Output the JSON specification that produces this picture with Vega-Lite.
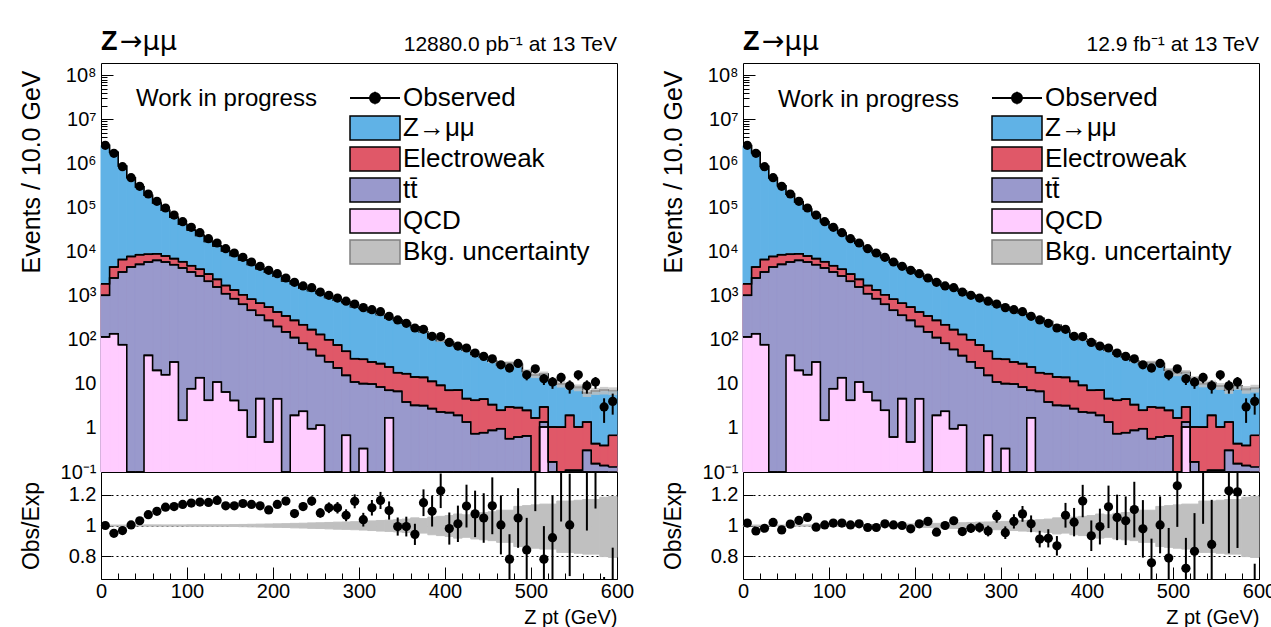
{
"$schema": "https://vega.github.io/schema/vega-lite/v6.json",
"padding": {"left": 18, "top": 27, "right": 0, "bottom": 0},
"background": "white",
"config": {
  "font": "Liberation Sans",
  "view": {"stroke": "#000", "strokeWidth": 1},
  "axis": {"domain": false, "grid": false, "tickColor": "#000", "labelColor": "#000", "titleColor": "#000", "labelFont": "Liberation Sans", "titleFont": "Liberation Sans", "titleFontWeight": "normal", "labelFontSize": 20, "titleFontSize": 21, "tickWidth": 1, "labelOverlap": false, "labelFlush": false},
  "legend": {"labelFont": "Liberation Sans", "labelColor": "#000", "labelLimit": 400},
  "text": {"font": "Liberation Sans", "color": "#000"}
},
"datasets": {
"stack": [
{"lo":0,"hi":10,"ewk":1862,"tt":1019,"qcd":116,"ulo":0.9967,"uhi":1.003},
{"lo":10,"hi":20,"ewk":4467,"tt":2518,"qcd":137,"ulo":0.9967,"uhi":1.003},
{"lo":20,"hi":30,"ewk":6607,"tt":3443,"qcd":77.3,"ulo":0.9967,"uhi":1.003},
{"lo":30,"hi":40,"ewk":7762,"tt":4477,"qcd":0,"ulo":0.9967,"uhi":1.003},
{"lo":40,"hi":50,"ewk":8511,"tt":5140,"qcd":0,"ulo":0.9967,"uhi":1.003},
{"lo":50,"hi":60,"ewk":8710,"tt":5808,"qcd":44.3,"ulo":0.9956,"uhi":1.004},
{"lo":60,"hi":70,"ewk":8913,"tt":6339,"qcd":20.2,"ulo":0.9956,"uhi":1.004},
{"lo":70,"hi":80,"ewk":7943,"tt":5800,"qcd":16.1,"ulo":0.9956,"uhi":1.004},
{"lo":80,"hi":90,"ewk":6918,"tt":5047,"qcd":31.3,"ulo":0.9956,"uhi":1.004},
{"lo":90,"hi":100,"ewk":5888,"tt":4246,"qcd":1.49,"ulo":0.9956,"uhi":1.004},
{"lo":100,"hi":110,"ewk":4786,"tt":3440,"qcd":7.76,"ulo":0.9945,"uhi":1.005},
{"lo":110,"hi":120,"ewk":3981,"tt":2793,"qcd":13.8,"ulo":0.9945,"uhi":1.005},
{"lo":120,"hi":130,"ewk":3090,"tt":2118,"qcd":4.23,"ulo":0.9945,"uhi":1.005},
{"lo":130,"hi":140,"ewk":2344,"tt":1574,"qcd":11.0,"ulo":0.9945,"uhi":1.005},
{"lo":140,"hi":150,"ewk":1698,"tt":1109,"qcd":6.53,"ulo":0.9945,"uhi":1.005},
{"lo":150,"hi":160,"ewk":1349,"tt":855,"qcd":4.2,"ulo":0.9934,"uhi":1.006},
{"lo":160,"hi":170,"ewk":1047,"tt":637,"qcd":2.51,"ulo":0.9923,"uhi":1.007},
{"lo":170,"hi":180,"ewk":832,"tt":466,"qcd":0.62,"ulo":0.9912,"uhi":1.008},
{"lo":180,"hi":190,"ewk":676,"tt":359,"qcd":4.61,"ulo":0.9901,"uhi":1.009},
{"lo":190,"hi":200,"ewk":550,"tt":276,"qcd":0.48,"ulo":0.989,"uhi":1.01},
{"lo":200,"hi":210,"ewk":427,"tt":200,"qcd":4.6,"ulo":0.9879,"uhi":1.011},
{"lo":210,"hi":220,"ewk":347,"tt":151,"qcd":0,"ulo":0.9868,"uhi":1.012},
{"lo":220,"hi":230,"ewk":275,"tt":112,"qcd":1.93,"ulo":0.9846,"uhi":1.014},
{"lo":230,"hi":240,"ewk":219,"tt":83.2,"qcd":2.38,"ulo":0.9835,"uhi":1.015},
{"lo":240,"hi":250,"ewk":170,"tt":60.3,"qcd":0.96,"ulo":0.9813,"uhi":1.017},
{"lo":250,"hi":260,"ewk":132,"tt":43.6,"qcd":1.15,"ulo":0.9802,"uhi":1.018},
{"lo":260,"hi":270,"ewk":100,"tt":31.6,"qcd":0,"ulo":0.978,"uhi":1.02},
{"lo":270,"hi":280,"ewk":75.9,"tt":22.9,"qcd":0,"ulo":0.9758,"uhi":1.022},
{"lo":280,"hi":290,"ewk":54.7,"tt":15.6,"qcd":0.68,"ulo":0.9747,"uhi":1.023},
{"lo":290,"hi":300,"ewk":37.2,"tt":11.0,"qcd":0,"ulo":0.9725,"uhi":1.025},
{"lo":300,"hi":310,"ewk":36.0,"tt":10.1,"qcd":0.34,"ulo":0.9703,"uhi":1.027},
{"lo":310,"hi":320,"ewk":31.3,"tt":9.9,"qcd":0,"ulo":0.967,"uhi":1.03},
{"lo":320,"hi":330,"ewk":28.7,"tt":8.47,"qcd":0,"ulo":0.9637,"uhi":1.033},
{"lo":330,"hi":340,"ewk":24.1,"tt":7.13,"qcd":1.7,"ulo":0.9615,"uhi":1.035},
{"lo":340,"hi":350,"ewk":17.9,"tt":6.76,"qcd":0,"ulo":0.9582,"uhi":1.038},
{"lo":350,"hi":360,"ewk":17.0,"tt":3.87,"qcd":0,"ulo":0.9538,"uhi":1.042},
{"lo":360,"hi":370,"ewk":14.3,"tt":3.25,"qcd":0,"ulo":0.945,"uhi":1.05},
{"lo":370,"hi":380,"ewk":14.0,"tt":3.2,"qcd":0,"ulo":0.9505,"uhi":1.045},
{"lo":380,"hi":390,"ewk":11.4,"tt":2.74,"qcd":0,"ulo":0.9395,"uhi":1.055},
{"lo":390,"hi":400,"ewk":9.25,"tt":2.30,"qcd":0,"ulo":0.934,"uhi":1.06},
{"lo":400,"hi":410,"ewk":7.13,"tt":2.22,"qcd":0,"ulo":0.9285,"uhi":1.065},
{"lo":410,"hi":420,"ewk":7.2,"tt":1.93,"qcd":0,"ulo":0.9175,"uhi":1.075},
{"lo":420,"hi":430,"ewk":4.61,"tt":1.36,"qcd":0,"ulo":0.923,"uhi":1.07},
{"lo":430,"hi":440,"ewk":4.23,"tt":0.74,"qcd":0,"ulo":0.912,"uhi":1.08},
{"lo":440,"hi":450,"ewk":4.5,"tt":0.78,"qcd":0,"ulo":0.9065,"uhi":1.085},
{"lo":450,"hi":460,"ewk":3.37,"tt":0.88,"qcd":0,"ulo":0.901,"uhi":1.09},
{"lo":460,"hi":470,"ewk":2.51,"tt":0.96,"qcd":0,"ulo":0.89,"uhi":1.1},
{"lo":470,"hi":480,"ewk":2.99,"tt":0.57,"qcd":0,"ulo":0.89,"uhi":1.1},
{"lo":480,"hi":490,"ewk":2.88,"tt":0.62,"qcd":0,"ulo":0.8625,"uhi":1.125},
{"lo":490,"hi":500,"ewk":2.5,"tt":0.66,"qcd":0,"ulo":0.857,"uhi":1.13},
{"lo":500,"hi":510,"ewk":1.68,"tt":0,"qcd":0,"ulo":0.8515,"uhi":1.135},
{"lo":510,"hi":520,"ewk":2.99,"tt":1.36,"qcd":1.05,"ulo":0.846,"uhi":1.14},
{"lo":520,"hi":530,"ewk":1.05,"tt":0.17,"qcd":0,"ulo":0.846,"uhi":1.14},
{"lo":530,"hi":540,"ewk":1.04,"tt":0,"qcd":0,"ulo":0.824,"uhi":1.16},
{"lo":540,"hi":550,"ewk":1.93,"tt":0.11,"qcd":0,"ulo":0.824,"uhi":1.16},
{"lo":550,"hi":560,"ewk":1.05,"tt":0.11,"qcd":0,"ulo":0.8185,"uhi":1.165},
{"lo":560,"hi":570,"ewk":1.36,"tt":0.31,"qcd":0,"ulo":0.813,"uhi":1.17},
{"lo":570,"hi":580,"ewk":0.44,"tt":0.155,"qcd":0,"ulo":0.813,"uhi":1.17},
{"lo":580,"hi":590,"ewk":0.40,"tt":0.14,"qcd":0,"ulo":0.7965,"uhi":1.185},
{"lo":590,"hi":600,"ewk":0.68,"tt":0.13,"qcd":0,"ulo":0.791,"uhi":1.19}
],
"obs": [
{"pt":5,"n":2576000,"err":1605},{"pt":15,"n":1698000,"err":1303},{"pt":25,"n":843300,"err":918},{"pt":35,"n":475300,"err":689},
{"pt":45,"n":302700,"err":550},{"pt":55,"n":202800,"err":450},{"pt":65,"n":138400,"err":372},{"pt":75,"n":97500,"err":312},
{"pt":85,"n":67600,"err":260},{"pt":95,"n":47640,"err":218},{"pt":105,"n":35560,"err":189},{"pt":115,"n":26850,"err":164},
{"pt":125,"n":19630,"err":140},{"pt":135,"n":15670,"err":125},{"pt":145,"n":11640,"err":108},{"pt":155,"n":9290,"err":96},
{"pt":165,"n":7430,"err":86},{"pt":175,"n":5810,"err":76},{"pt":185,"n":4630,"err":68},{"pt":195,"n":3770,"err":61},
{"pt":205,"n":3155,"err":56},{"pt":215,"n":2518,"err":50},{"pt":225,"n":2009,"err":45},{"pt":235,"n":1660,"err":41},
{"pt":245,"n":1517,"err":39},{"pt":255,"n":1211,"err":35},{"pt":265,"n":1019,"err":32},{"pt":275,"n":885,"err":30},
{"pt":285,"n":752,"err":27},{"pt":295,"n":647,"err":25},{"pt":305,"n":536,"err":23},{"pt":315,"n":481,"err":22},
{"pt":325,"n":434,"err":21},{"pt":335,"n":340,"err":18},{"pt":345,"n":281,"err":17},{"pt":355,"n":236,"err":15},
{"pt":365,"n":185,"err":14},{"pt":375,"n":173,"err":13},{"pt":385,"n":120,"err":11},{"pt":395,"n":118,"err":11},
{"pt":405,"n":87,"err":9.3},{"pt":415,"n":72,"err":8.5},{"pt":425,"n":65,"err":8.1},{"pt":435,"n":50,"err":7.1},
{"pt":445,"n":42,"err":6.5},{"pt":455,"n":37,"err":6.1},{"pt":465,"n":27,"err":5.2},{"pt":475,"n":23,"err":4.8},
{"pt":485,"n":29,"err":5.4},{"pt":495,"n":16,"err":4},{"pt":505,"n":22,"err":4.7},{"pt":515,"n":13,"err":3.6},
{"pt":525,"n":11,"err":3.3},{"pt":535,"n":14,"err":3.7},{"pt":545,"n":9,"err":3},{"pt":555,"n":16,"err":4},
{"pt":565,"n":9,"err":3},{"pt":575,"n":11,"err":3.3},{"pt":585,"n":3,"err":1.7},{"pt":595,"n":4,"err":2}
],
"left": [
{"lo":0,"hi":10,"pt":5,"mc":2576000,"blo":2567500,"bhi":2583700,"r":1.0,"rerr":0.0006},
{"lo":10,"hi":20,"pt":15,"mc":1789000,"blo":1783100,"bhi":1794400,"r":0.949,"rerr":0.0007},
{"lo":20,"hi":30,"pt":25,"mc":872100,"blo":869200,"bhi":874700,"r":0.967,"rerr":0.0011},
{"lo":30,"hi":40,"pt":35,"mc":473400,"blo":471800,"bhi":474800,"r":1.004,"rerr":0.0015},
{"lo":40,"hi":50,"pt":45,"mc":293600,"blo":292600,"bhi":294500,"r":1.031,"rerr":0.0019},
{"lo":50,"hi":60,"pt":55,"mc":189400,"blo":188600,"bhi":190200,"r":1.071,"rerr":0.0024},
{"lo":60,"hi":70,"pt":65,"mc":126600,"blo":126000,"bhi":127100,"r":1.093,"rerr":0.0029},
{"lo":70,"hi":80,"pt":75,"mc":87050,"blo":86670,"bhi":87400,"r":1.120,"rerr":0.0036},
{"lo":80,"hi":90,"pt":85,"mc":60140,"blo":59880,"bhi":60380,"r":1.124,"rerr":0.0043},
{"lo":90,"hi":100,"pt":95,"mc":41860,"blo":41680,"bhi":42030,"r":1.138,"rerr":0.0052},
{"lo":100,"hi":110,"pt":105,"mc":31000,"blo":30830,"bhi":31160,"r":1.147,"rerr":0.0061},
{"lo":110,"hi":120,"pt":115,"mc":23290,"blo":23160,"bhi":23410,"r":1.153,"rerr":0.007},
{"lo":120,"hi":130,"pt":125,"mc":17050,"blo":16960,"bhi":17140,"r":1.151,"rerr":0.0082},
{"lo":130,"hi":140,"pt":135,"mc":13460,"blo":13390,"bhi":13530,"r":1.164,"rerr":0.0093},
{"lo":140,"hi":150,"pt":145,"mc":10310,"blo":10250,"bhi":10360,"r":1.129,"rerr":0.0105},
{"lo":150,"hi":160,"pt":155,"mc":8230,"blo":8176,"bhi":8279,"r":1.129,"rerr":0.0118},
{"lo":160,"hi":170,"pt":165,"mc":6495,"blo":6445,"bhi":6540,"r":1.144,"rerr":0.0133},
{"lo":170,"hi":180,"pt":175,"mc":5105,"blo":5060,"bhi":5146,"r":1.138,"rerr":0.0149},
{"lo":180,"hi":190,"pt":185,"mc":4101,"blo":4060,"bhi":4138,"r":1.129,"rerr":0.0166},
{"lo":190,"hi":200,"pt":195,"mc":3421,"blo":3383,"bhi":3455,"r":1.102,"rerr":0.0179},
{"lo":200,"hi":210,"pt":205,"mc":2772,"blo":2738,"bhi":2802,"r":1.138,"rerr":0.0203},
{"lo":210,"hi":220,"pt":215,"mc":2171,"blo":2142,"bhi":2197,"r":1.160,"rerr":0.0231},
{"lo":220,"hi":230,"pt":225,"mc":1864,"blo":1835,"bhi":1890,"r":1.078,"rerr":0.024},
{"lo":230,"hi":240,"pt":235,"mc":1477,"blo":1453,"bhi":1499,"r":1.124,"rerr":0.0276},
{"lo":240,"hi":250,"pt":245,"mc":1308,"blo":1284,"bhi":1330,"r":1.160,"rerr":0.0298},
{"lo":250,"hi":260,"pt":255,"mc":1119,"blo":1097,"bhi":1139,"r":1.082,"rerr":0.0311},
{"lo":260,"hi":270,"pt":265,"mc":913,"blo":893,"bhi":931,"r":1.116,"rerr":0.035},
{"lo":270,"hi":280,"pt":275,"mc":793,"blo":774,"bhi":810,"r":1.116,"rerr":0.0375},
{"lo":280,"hi":290,"pt":285,"mc":705,"blo":687,"bhi":721,"r":1.067,"rerr":0.0389},
{"lo":290,"hi":300,"pt":295,"mc":559,"blo":544,"bhi":573,"r":1.158,"rerr":0.0455},
{"lo":300,"hi":310,"pt":305,"mc":516,"blo":501,"bhi":530,"r":1.038,"rerr":0.0448},
{"lo":310,"hi":320,"pt":315,"mc":431,"blo":417,"bhi":444,"r":1.116,"rerr":0.0509},
{"lo":320,"hi":330,"pt":325,"mc":373,"blo":359,"bhi":385,"r":1.164,"rerr":0.0559},
{"lo":330,"hi":340,"pt":335,"mc":310,"blo":298,"bhi":321,"r":1.098,"rerr":0.0595},
{"lo":340,"hi":350,"pt":345,"mc":283,"blo":271,"bhi":294,"r":0.993,"rerr":0.0592},
{"lo":350,"hi":360,"pt":355,"mc":238,"blo":227,"bhi":248,"r":0.993,"rerr":0.0646},
{"lo":360,"hi":370,"pt":365,"mc":196,"blo":185,"bhi":206,"r":0.942,"rerr":0.0693},
{"lo":370,"hi":380,"pt":375,"mc":151,"blo":144,"bhi":158,"r":1.149,"rerr":0.0874},
{"lo":380,"hi":390,"pt":385,"mc":110,"blo":103,"bhi":116,"r":1.093,"rerr":0.0998},
{"lo":390,"hi":400,"pt":395,"mc":96.2,"blo":89.9,"bhi":102,"r":1.227,"rerr":0.113},
{"lo":400,"hi":410,"pt":405,"mc":88.8,"blo":82.5,"bhi":94.6,"r":0.98,"rerr":0.105},
{"lo":410,"hi":420,"pt":415,"mc":71.2,"blo":65.3,"bhi":76.5,"r":1.011,"rerr":0.119},
{"lo":420,"hi":430,"pt":425,"mc":57.7,"blo":53.3,"bhi":61.7,"r":1.127,"rerr":0.14},
{"lo":430,"hi":440,"pt":435,"mc":46.5,"blo":42.4,"bhi":50.2,"r":1.076,"rerr":0.152},
{"lo":440,"hi":450,"pt":445,"mc":40.0,"blo":36.3,"bhi":43.4,"r":1.049,"rerr":0.162},
{"lo":450,"hi":460,"pt":455,"mc":32.8,"blo":29.6,"bhi":35.8,"r":1.129,"rerr":0.186},
{"lo":460,"hi":470,"pt":465,"mc":26.9,"blo":23.9,"bhi":29.6,"r":1.004,"rerr":0.193},
{"lo":470,"hi":480,"pt":475,"mc":29.5,"blo":26.3,"bhi":32.5,"r":0.78,"rerr":0.163},
{"lo":480,"hi":490,"pt":485,"mc":27.6,"blo":23.8,"bhi":31.1,"r":1.049,"rerr":0.195},
{"lo":490,"hi":500,"pt":495,"mc":19.0,"blo":16.3,"bhi":21.5,"r":0.84,"rerr":0.21},
{"lo":500,"hi":510,"pt":505,"mc":15.8,"blo":13.5,"bhi":17.9,"r":1.39,"rerr":0.296},
{"lo":510,"hi":520,"pt":515,"mc":16.7,"blo":14.1,"bhi":19.0,"r":0.78,"rerr":0.216},
{"lo":520,"hi":530,"pt":525,"mc":12.0,"blo":10.2,"bhi":13.7,"r":0.92,"rerr":0.277},
{"lo":530,"hi":540,"pt":535,"mc":10.0,"blo":8.24,"bhi":11.6,"r":1.4,"rerr":0.374},
{"lo":540,"hi":550,"pt":545,"mc":8.96,"blo":7.38,"bhi":10.4,"r":1.004,"rerr":0.335},
{"lo":550,"hi":560,"pt":555,"mc":8.3,"blo":6.79,"bhi":9.67,"r":1.93,"rerr":0.482},
{"lo":560,"hi":570,"pt":565,"mc":6.2,"blo":5.04,"bhi":7.25,"r":1.45,"rerr":0.483},
{"lo":570,"hi":580,"pt":575,"mc":6.9,"blo":5.61,"bhi":8.07,"r":1.59,"rerr":0.479},
{"lo":580,"hi":590,"pt":585,"mc":7.2,"blo":5.73,"bhi":8.53,"r":0.42,"rerr":0.243},
{"lo":590,"hi":600,"pt":595,"mc":7.0,"blo":5.54,"bhi":8.33,"r":0.57,"rerr":0.285}
],
"right": [
{"lo":0,"hi":10,"pt":5,"mc":2535000,"blo":2526600,"bhi":2542600,"r":1.016,"rerr":0.0006},
{"lo":10,"hi":20,"pt":15,"mc":1761000,"blo":1755200,"bhi":1766300,"r":0.964,"rerr":0.0007},
{"lo":20,"hi":30,"pt":25,"mc":858800,"blo":856000,"bhi":861400,"r":0.982,"rerr":0.0011},
{"lo":30,"hi":40,"pt":35,"mc":466000,"blo":464500,"bhi":467400,"r":1.020,"rerr":0.0015},
{"lo":40,"hi":50,"pt":45,"mc":311700,"blo":310700,"bhi":312600,"r":0.971,"rerr":0.0018},
{"lo":50,"hi":60,"pt":55,"mc":201000,"blo":200100,"bhi":201800,"r":1.009,"rerr":0.0022},
{"lo":60,"hi":70,"pt":65,"mc":134000,"blo":133400,"bhi":134500,"r":1.033,"rerr":0.0028},
{"lo":70,"hi":80,"pt":75,"mc":92590,"blo":92180,"bhi":92960,"r":1.053,"rerr":0.0034},
{"lo":80,"hi":90,"pt":85,"mc":68350,"blo":68050,"bhi":68620,"r":0.989,"rerr":0.0038},
{"lo":90,"hi":100,"pt":95,"mc":47450,"blo":47240,"bhi":47640,"r":1.004,"rerr":0.0046},
{"lo":100,"hi":110,"pt":105,"mc":35000,"blo":34810,"bhi":35180,"r":1.016,"rerr":0.0054},
{"lo":110,"hi":120,"pt":115,"mc":26430,"blo":26280,"bhi":26560,"r":1.016,"rerr":0.0062},
{"lo":120,"hi":130,"pt":125,"mc":19550,"blo":19440,"bhi":19650,"r":1.004,"rerr":0.0072},
{"lo":130,"hi":140,"pt":135,"mc":15500,"blo":15410,"bhi":15580,"r":1.011,"rerr":0.0081},
{"lo":140,"hi":150,"pt":145,"mc":11790,"blo":11730,"bhi":11850,"r":0.987,"rerr":0.0091},
{"lo":150,"hi":160,"pt":155,"mc":9412,"blo":9350,"bhi":9468,"r":0.987,"rerr":0.0102},
{"lo":160,"hi":170,"pt":165,"mc":7349,"blo":7292,"bhi":7400,"r":1.011,"rerr":0.0117},
{"lo":170,"hi":180,"pt":175,"mc":5787,"blo":5736,"bhi":5833,"r":1.004,"rerr":0.0132},
{"lo":180,"hi":190,"pt":185,"mc":4630,"blo":4584,"bhi":4672,"r":1.0,"rerr":0.0147},
{"lo":190,"hi":200,"pt":195,"mc":3855,"blo":3813,"bhi":3894,"r":0.978,"rerr":0.0159},
{"lo":200,"hi":210,"pt":205,"mc":3121,"blo":3083,"bhi":3155,"r":1.011,"rerr":0.018},
{"lo":210,"hi":220,"pt":215,"mc":2452,"blo":2420,"bhi":2481,"r":1.027,"rerr":0.0205},
{"lo":220,"hi":230,"pt":225,"mc":2101,"blo":2069,"bhi":2130,"r":0.956,"rerr":0.0213},
{"lo":230,"hi":240,"pt":235,"mc":1660,"blo":1633,"bhi":1685,"r":1.0,"rerr":0.0246},
{"lo":240,"hi":250,"pt":245,"mc":1471,"blo":1443,"bhi":1496,"r":1.031,"rerr":0.0265},
{"lo":250,"hi":260,"pt":255,"mc":1261,"blo":1236,"bhi":1284,"r":0.96,"rerr":0.0276},
{"lo":260,"hi":270,"pt":265,"mc":1038,"blo":1015,"bhi":1059,"r":0.982,"rerr":0.0308},
{"lo":270,"hi":280,"pt":275,"mc":897,"blo":875,"bhi":917,"r":0.987,"rerr":0.0332},
{"lo":280,"hi":290,"pt":285,"mc":780,"blo":760,"bhi":798,"r":0.964,"rerr":0.0352},
{"lo":290,"hi":300,"pt":295,"mc":610,"blo":593,"bhi":625,"r":1.06,"rerr":0.0417},
{"lo":300,"hi":310,"pt":305,"mc":562,"blo":545,"bhi":577,"r":0.953,"rerr":0.0411},
{"lo":310,"hi":320,"pt":315,"mc":468,"blo":453,"bhi":482,"r":1.027,"rerr":0.0469},
{"lo":320,"hi":330,"pt":325,"mc":403,"blo":388,"bhi":416,"r":1.076,"rerr":0.0517},
{"lo":330,"hi":340,"pt":335,"mc":336,"blo":323,"bhi":348,"r":1.011,"rerr":0.0549},
{"lo":340,"hi":350,"pt":345,"mc":308,"blo":295,"bhi":320,"r":0.911,"rerr":0.0542},
{"lo":350,"hi":360,"pt":355,"mc":258,"blo":246,"bhi":269,"r":0.916,"rerr":0.0595},
{"lo":360,"hi":370,"pt":365,"mc":213,"blo":201,"bhi":224,"r":0.867,"rerr":0.0638},
{"lo":370,"hi":380,"pt":375,"mc":162,"blo":154,"bhi":169,"r":1.067,"rerr":0.0808},
{"lo":380,"hi":390,"pt":385,"mc":117,"blo":110,"bhi":123,"r":1.022,"rerr":0.0929},
{"lo":390,"hi":400,"pt":395,"mc":102,"blo":95.3,"bhi":108,"r":1.16,"rerr":0.106},
{"lo":400,"hi":410,"pt":405,"mc":93.2,"blo":86.5,"bhi":99.3,"r":0.933,"rerr":0.1},
{"lo":410,"hi":420,"pt":415,"mc":72.5,"blo":66.5,"bhi":77.9,"r":0.993,"rerr":0.117},
{"lo":420,"hi":430,"pt":425,"mc":57.9,"blo":53.4,"bhi":62.0,"r":1.122,"rerr":0.139},
{"lo":430,"hi":440,"pt":435,"mc":47.5,"blo":43.3,"bhi":51.3,"r":1.053,"rerr":0.149},
{"lo":440,"hi":450,"pt":445,"mc":40.7,"blo":36.9,"bhi":44.2,"r":1.031,"rerr":0.159},
{"lo":450,"hi":460,"pt":455,"mc":33.5,"blo":30.2,"bhi":36.5,"r":1.104,"rerr":0.182},
{"lo":460,"hi":470,"pt":465,"mc":27.6,"blo":24.6,"bhi":30.4,"r":0.978,"rerr":0.188},
{"lo":470,"hi":480,"pt":475,"mc":30.4,"blo":27.1,"bhi":33.4,"r":0.756,"rerr":0.158},
{"lo":480,"hi":490,"pt":485,"mc":28.9,"blo":24.9,"bhi":32.5,"r":1.004,"rerr":0.186},
{"lo":490,"hi":500,"pt":495,"mc":20.3,"blo":17.4,"bhi":22.9,"r":0.787,"rerr":0.197},
{"lo":500,"hi":510,"pt":505,"mc":17.5,"blo":14.9,"bhi":19.9,"r":1.26,"rerr":0.269},
{"lo":510,"hi":520,"pt":515,"mc":18.1,"blo":15.3,"bhi":20.6,"r":0.72,"rerr":0.199},
{"lo":520,"hi":530,"pt":525,"mc":13.2,"blo":11.2,"bhi":15.0,"r":0.831,"rerr":0.25},
{"lo":530,"hi":540,"pt":535,"mc":10.1,"blo":8.32,"bhi":11.7,"r":1.38,"rerr":0.369},
{"lo":540,"hi":550,"pt":545,"mc":10.3,"blo":8.49,"bhi":11.9,"r":0.876,"rerr":0.292},
{"lo":550,"hi":560,"pt":555,"mc":8.9,"blo":7.28,"bhi":10.4,"r":1.8,"rerr":0.45},
{"lo":560,"hi":570,"pt":565,"mc":7.3,"blo":5.93,"bhi":8.54,"r":1.227,"rerr":0.409},
{"lo":570,"hi":580,"pt":575,"mc":9.0,"blo":7.32,"bhi":10.5,"r":1.22,"rerr":0.367},
{"lo":580,"hi":590,"pt":585,"mc":7.5,"blo":5.97,"bhi":8.89,"r":0.4,"rerr":0.231},
{"lo":590,"hi":600,"pt":595,"mc":8.0,"blo":6.33,"bhi":9.52,"r":0.5,"rerr":0.25}
]
},
"spacing": 25,
"resolve": {"scale": {"fill": "independent", "color": "independent"}, "legend": {"fill": "independent", "color": "independent"}},
"hconcat": [
{
"spacing": 0,
"bounds": "flush",
"resolve": {"scale": {"fill": "independent", "color": "independent"}, "legend": {"fill": "independent", "color": "independent"}},
"vconcat": [
{
"width": 516, "height": 409,
"layer": [
{"data": {"name": "left"}, "mark": {"type": "rect", "stroke": "#60b2e6", "strokeWidth": 1},
 "encoding": {
  "x": {"field": "lo", "type": "quantitative", "scale": {"domain": [0, 600], "nice": false, "zero": false},
        "axis": {"title": null, "labels": false, "labelOverlap": false, "values": [0,20,40,60,80,100,120,140,160,180,200,220,240,260,280,300,320,340,360,380,400,420,440,460,480,500,520,540,560,580,600],
                 "tickSize": {"condition": {"test": "datum.value % 100 === 0", "value": -12}, "value": -6}}},
  "x2": {"field": "hi"},
  "y": {"field": "mc", "type": "quantitative", "scale": {"type": "log", "domain": [0.1, 190000000], "nice": false, "clamp": true},
        "axis": {"title": "Events / 10.0 GeV", "titleX": -70, "titleY": 7, "titleAngle": -90, "titleAlign": "right", "titleBaseline": "middle", "titleFontSize": 25,
                 "labelOverlap": false,
                 "values": [0.1,0.2,0.3,0.4,0.5,0.6,0.7,0.8,0.9,1,2,3,4,5,6,7,8,9,10,20,30,40,50,60,70,80,90,100,200,300,400,500,600,700,800,900,1000,2000,3000,4000,5000,6000,7000,8000,9000,10000,20000,30000,40000,50000,60000,70000,80000,90000,100000,200000,300000,400000,500000,600000,700000,800000,900000,1000000,2000000,3000000,4000000,5000000,6000000,7000000,8000000,9000000,10000000,20000000,30000000,40000000,50000000,60000000,70000000,80000000,90000000,100000000],
                 "labelExpr": "datum.value == 0.1 ? '10⁻¹' : datum.value == 1 ? '1' : datum.value == 10 ? '10' : datum.value == 100 ? '10²' : datum.value == 1000 ? '10³' : datum.value == 10000 ? '10⁴' : datum.value == 100000 ? '10⁵' : datum.value == 1000000 ? '10⁶' : datum.value == 10000000 ? '10⁷' : datum.value == 100000000 ? '10⁸' : ''",
                 "tickSize": {"condition": {"test": "abs(log(datum.value)/LN10 - round(log(datum.value)/LN10)) < 0.001", "value": -12}, "value": -6},
                 "labelPadding": 17}},
  "y2": {"datum": 0.1},
  "fill": {"datum": "Z→μμ", "type": "nominal",
           "scale": {"domain": ["Z→μμ", "Electroweak", "tt̄", "QCD", "Bkg. uncertainty"], "range": ["#60b2e6", "#e05868", "#9999cc", "#ffccff", "#c0c0c0"]},
           "legend": {"orient": "none", "legendX": 260.5, "legendY": 51.5, "title": null, "padding": 0,
                      "symbolType": "M-2,-0.96H2V0.96H-2Z", "symbolSize": 625, "symbolStrokeWidth": 1.5, "symbolStrokeColor": "#000", "symbolOpacity": 1,
                      "labelFontSize": 26, "labelOffset": 14.5, "rowPadding": 0,
                      "encode": {"symbols": {"update": {"stroke": {"signal": "datum.value === 'Bkg. uncertainty' ? '#808080' : '#000000'"}, "strokeWidth": {"value": 1.5}, "opacity": {"value": 1}}}}}}
 }},
{"data": {"name": "stack"}, "mark": {"type": "rect", "stroke": "#e05868", "strokeWidth": 1},
 "encoding": {"x": {"field": "lo", "type": "quantitative"}, "x2": {"field": "hi"}, "y": {"field": "ewk", "type": "quantitative"}, "y2": {"datum": 0.1}, "fill": {"datum": "Electroweak", "type": "nominal"}}},
{"data": {"name": "stack"}, "mark": {"type": "rect", "stroke": "#9999cc", "strokeWidth": 1},
 "encoding": {"x": {"field": "lo", "type": "quantitative"}, "x2": {"field": "hi"}, "y": {"field": "tt", "type": "quantitative"}, "y2": {"datum": 0.1}, "fill": {"datum": "tt̄", "type": "nominal"}}},
{"data": {"name": "stack"}, "mark": {"type": "rect", "stroke": "#ffccff", "strokeWidth": 1},
 "encoding": {"x": {"field": "lo", "type": "quantitative"}, "x2": {"field": "hi"}, "y": {"field": "qcd", "type": "quantitative"}, "y2": {"datum": 0.1}, "fill": {"datum": "QCD", "type": "nominal"}}},
{"data": {"name": "left"}, "mark": {"type": "line", "interpolate": "step-after", "color": "#000", "strokeWidth": 1.6},
 "encoding": {"x": {"field": "lo", "type": "quantitative"}, "y": {"field": "mc", "type": "quantitative"}}},
{"data": {"name": "stack"}, "mark": {"type": "line", "interpolate": "step-after", "color": "#000", "strokeWidth": 1.6},
 "encoding": {"x": {"field": "lo", "type": "quantitative"}, "y": {"field": "ewk", "type": "quantitative"}}},
{"data": {"name": "stack"}, "mark": {"type": "line", "interpolate": "step-after", "color": "#000", "strokeWidth": 1.6},
 "encoding": {"x": {"field": "lo", "type": "quantitative"}, "y": {"field": "tt", "type": "quantitative"}}},
{"data": {"name": "stack"}, "mark": {"type": "line", "interpolate": "step-after", "color": "#000", "strokeWidth": 1.6},
 "encoding": {"x": {"field": "lo", "type": "quantitative"}, "y": {"field": "qcd", "type": "quantitative"}}},
{"data": {"name": "left"}, "mark": {"type": "rule", "color": "#000", "strokeWidth": 1.6},
 "encoding": {"x": {"field": "lo", "type": "quantitative"}, "x2": {"field": "hi"}, "y": {"field": "mc", "type": "quantitative"}}},
{"data": {"name": "stack"}, "mark": {"type": "rule", "color": "#000", "strokeWidth": 1.6},
 "encoding": {"x": {"field": "lo", "type": "quantitative"}, "x2": {"field": "hi"}, "y": {"field": "ewk", "type": "quantitative"}}},
{"data": {"name": "stack"}, "mark": {"type": "rule", "color": "#000", "strokeWidth": 1.6},
 "encoding": {"x": {"field": "lo", "type": "quantitative"}, "x2": {"field": "hi"}, "y": {"field": "tt", "type": "quantitative"}}},
{"data": {"name": "stack"}, "mark": {"type": "rule", "color": "#000", "strokeWidth": 1.6},
 "encoding": {"x": {"field": "lo", "type": "quantitative"}, "x2": {"field": "hi"}, "y": {"field": "qcd", "type": "quantitative"}}},
{"data": {"name": "left"}, "mark": {"type": "rect", "fillOpacity": 0.8},
 "encoding": {"x": {"field": "lo", "type": "quantitative"}, "x2": {"field": "hi"}, "y": {"field": "bhi", "type": "quantitative"}, "y2": {"field": "blo"}, "fill": {"datum": "Bkg. uncertainty", "type": "nominal"}}},
{"data": {"name": "obs"}, "mark": {"type": "errorbar", "color": "#000", "thickness": 2, "clip": true},
 "encoding": {"x": {"field": "pt", "type": "quantitative"}, "y": {"field": "n", "type": "quantitative", "title": "Events / 10.0 GeV"}, "yError": {"field": "err"}}},
{"data": {"name": "obs"}, "mark": {"type": "point", "filled": true, "size": 85, "opacity": 1, "clip": true},
 "encoding": {"x": {"field": "pt", "type": "quantitative"}, "y": {"field": "n", "type": "quantitative"},
  "color": {"datum": "Observed", "type": "nominal", "scale": {"domain": ["Observed"], "range": ["#000000"]},
            "legend": {"orient": "none", "legendX": 260.5, "legendY": 21.5, "title": null, "padding": 0,
                       "symbolType": "M-2,0H2M0,-0.5V0.5M0.4,0A0.4,0.4,0,1,1,-0.4,0A0.4,0.4,0,1,1,0.4,0Z", "symbolSize": 625,
                       "symbolFillColor": "#000", "symbolStrokeColor": "#000", "symbolStrokeWidth": 2, "labelFontSize": 26, "labelOffset": 14.5,
                       "encode": {"symbols": {"update": {"stroke": {"value": "#000"}, "strokeWidth": {"value": 2}, "fill": {"value": "#000"}, "opacity": {"value": 1}}}}}}}},
{"data": {"values": [{}]}, "mark": {"type": "text", "text": "Work in progress", "fontSize": 24, "align": "left", "baseline": "middle"},
 "encoding": {"x": {"datum": 40.7, "type": "quantitative"}, "y": {"datum": 29000000, "type": "quantitative"}}},
{"data": {"values": [{}]}, "mark": {"type": "text", "text": "Z", "fontSize": 27, "fontWeight": "bold", "align": "left", "baseline": "middle", "dy": -21},
 "encoding": {"x": {"datum": 0, "type": "quantitative"}, "y": {"datum": 190000000, "type": "quantitative"}}},
{"data": {"values": [{}]}, "mark": {"type": "text", "text": "→μμ", "font": "DejaVu Sans", "fontSize": 27, "align": "left", "baseline": "middle", "dy": -21},
 "encoding": {"x": {"datum": 22, "type": "quantitative"}, "y": {"datum": 190000000, "type": "quantitative"}}},
{"data": {"values": [{}]}, "mark": {"type": "text", "text": "12880.0 pb⁻¹ at 13 TeV", "fontSize": 21, "align": "right", "baseline": "middle", "dy": -18},
 "encoding": {"x": {"datum": 600, "type": "quantitative"}, "y": {"datum": 190000000, "type": "quantitative"}}}
]
},
{
"width": 516, "height": 107,
"resolve": {"axis": {"x": "independent"}},
"layer": [
{"data": {"name": "stack"}, "mark": {"type": "rect", "color": "#c0c0c0", "stroke": "#c0c0c0", "strokeWidth": 1},
 "encoding": {
  "x": {"field": "lo", "type": "quantitative", "scale": {"domain": [0, 600], "nice": false, "zero": false},
        "axis": {"orient": "bottom", "title": "Z pt  (GeV)", "titleAnchor": "end", "titleAlign": "right", "titleFontSize": 20, "titlePadding": 6,
                 "labelOverlap": false, "values": [0,100,200,300,400,500,600],
                 "tickSize": -12, "labelPadding": 14}},
  "x2": {"field": "hi"},
  "y": {"field": "uhi", "type": "quantitative", "scale": {"domain": [0.65, 1.35], "nice": false, "zero": false},
        "axis": {"title": "Obs/Exp", "titleX": -70, "titleY": 53.5, "titleAngle": -90, "titleAlign": "center", "titleBaseline": "middle", "titleFontSize": 23,
                 "labelOverlap": false,
                 "values": [0.8, 1, 1.2],
                 "labelExpr": "datum.value == 1 ? '1' : format(datum.value, '.1f')",
                 "tickSize": -10, "labelPadding": 15,
                 "grid": true, "gridColor": "#000", "gridDash": [2, 3], "gridWidth": 1}},
  "y2": {"field": "ulo"}
 }},
{"data": {"name": "left"}, "mark": {"type": "errorbar", "color": "#000", "thickness": 2, "clip": true},
 "encoding": {"x": {"field": "pt", "type": "quantitative",
                    "axis": {"orient": "bottom", "title": null, "labels": false, "tickSize": -6,
                             "values": [20,40,60,80,120,140,160,180,220,240,260,280,320,340,360,380,420,440,460,480,520,540,560,580]}},
              "y": {"field": "r", "type": "quantitative", "title": "Obs/Exp"}, "yError": {"field": "rerr"}}},
{"data": {"name": "left"}, "mark": {"type": "point", "filled": true, "color": "#000", "size": 85, "opacity": 1, "clip": true},
 "encoding": {"x": {"field": "pt", "type": "quantitative", "axis": null}, "y": {"field": "r", "type": "quantitative"}}}
]
}
]
},
{
"spacing": 0,
"bounds": "flush",
"resolve": {"scale": {"fill": "independent", "color": "independent"}, "legend": {"fill": "independent", "color": "independent"}},
"vconcat": [
{
"width": 516, "height": 409,
"layer": [
{"data": {"name": "right"}, "mark": {"type": "rect", "stroke": "#60b2e6", "strokeWidth": 1},
 "encoding": {
  "x": {"field": "lo", "type": "quantitative", "scale": {"domain": [0, 600], "nice": false, "zero": false},
        "axis": {"title": null, "labels": false, "labelOverlap": false, "values": [0,20,40,60,80,100,120,140,160,180,200,220,240,260,280,300,320,340,360,380,400,420,440,460,480,500,520,540,560,580,600],
                 "tickSize": {"condition": {"test": "datum.value % 100 === 0", "value": -12}, "value": -6}}},
  "x2": {"field": "hi"},
  "y": {"field": "mc", "type": "quantitative", "scale": {"type": "log", "domain": [0.1, 190000000], "nice": false, "clamp": true},
        "axis": {"title": "Events / 10.0 GeV", "titleX": -70, "titleY": 7, "titleAngle": -90, "titleAlign": "right", "titleBaseline": "middle", "titleFontSize": 25,
                 "labelOverlap": false,
                 "values": [0.1,0.2,0.3,0.4,0.5,0.6,0.7,0.8,0.9,1,2,3,4,5,6,7,8,9,10,20,30,40,50,60,70,80,90,100,200,300,400,500,600,700,800,900,1000,2000,3000,4000,5000,6000,7000,8000,9000,10000,20000,30000,40000,50000,60000,70000,80000,90000,100000,200000,300000,400000,500000,600000,700000,800000,900000,1000000,2000000,3000000,4000000,5000000,6000000,7000000,8000000,9000000,10000000,20000000,30000000,40000000,50000000,60000000,70000000,80000000,90000000,100000000],
                 "labelExpr": "datum.value == 0.1 ? '10⁻¹' : datum.value == 1 ? '1' : datum.value == 10 ? '10' : datum.value == 100 ? '10²' : datum.value == 1000 ? '10³' : datum.value == 10000 ? '10⁴' : datum.value == 100000 ? '10⁵' : datum.value == 1000000 ? '10⁶' : datum.value == 10000000 ? '10⁷' : datum.value == 100000000 ? '10⁸' : ''",
                 "tickSize": {"condition": {"test": "abs(log(datum.value)/LN10 - round(log(datum.value)/LN10)) < 0.001", "value": -12}, "value": -6},
                 "labelPadding": 17}},
  "y2": {"datum": 0.1},
  "fill": {"datum": "Z→μμ", "type": "nominal",
           "scale": {"domain": ["Z→μμ", "Electroweak", "tt̄", "QCD", "Bkg. uncertainty"], "range": ["#60b2e6", "#e05868", "#9999cc", "#ffccff", "#c0c0c0"]},
           "legend": {"orient": "none", "legendX": 260.5, "legendY": 51.5, "title": null, "padding": 0,
                      "symbolType": "M-2,-0.96H2V0.96H-2Z", "symbolSize": 625, "symbolStrokeWidth": 1.5, "symbolStrokeColor": "#000", "symbolOpacity": 1,
                      "labelFontSize": 26, "labelOffset": 14.5, "rowPadding": 0,
                      "encode": {"symbols": {"update": {"stroke": {"signal": "datum.value === 'Bkg. uncertainty' ? '#808080' : '#000000'"}, "strokeWidth": {"value": 1.5}, "opacity": {"value": 1}}}}}}
 }},
{"data": {"name": "stack"}, "mark": {"type": "rect", "stroke": "#e05868", "strokeWidth": 1},
 "encoding": {"x": {"field": "lo", "type": "quantitative"}, "x2": {"field": "hi"}, "y": {"field": "ewk", "type": "quantitative"}, "y2": {"datum": 0.1}, "fill": {"datum": "Electroweak", "type": "nominal"}}},
{"data": {"name": "stack"}, "mark": {"type": "rect", "stroke": "#9999cc", "strokeWidth": 1},
 "encoding": {"x": {"field": "lo", "type": "quantitative"}, "x2": {"field": "hi"}, "y": {"field": "tt", "type": "quantitative"}, "y2": {"datum": 0.1}, "fill": {"datum": "tt̄", "type": "nominal"}}},
{"data": {"name": "stack"}, "mark": {"type": "rect", "stroke": "#ffccff", "strokeWidth": 1},
 "encoding": {"x": {"field": "lo", "type": "quantitative"}, "x2": {"field": "hi"}, "y": {"field": "qcd", "type": "quantitative"}, "y2": {"datum": 0.1}, "fill": {"datum": "QCD", "type": "nominal"}}},
{"data": {"name": "right"}, "mark": {"type": "line", "interpolate": "step-after", "color": "#000", "strokeWidth": 1.6},
 "encoding": {"x": {"field": "lo", "type": "quantitative"}, "y": {"field": "mc", "type": "quantitative"}}},
{"data": {"name": "stack"}, "mark": {"type": "line", "interpolate": "step-after", "color": "#000", "strokeWidth": 1.6},
 "encoding": {"x": {"field": "lo", "type": "quantitative"}, "y": {"field": "ewk", "type": "quantitative"}}},
{"data": {"name": "stack"}, "mark": {"type": "line", "interpolate": "step-after", "color": "#000", "strokeWidth": 1.6},
 "encoding": {"x": {"field": "lo", "type": "quantitative"}, "y": {"field": "tt", "type": "quantitative"}}},
{"data": {"name": "stack"}, "mark": {"type": "line", "interpolate": "step-after", "color": "#000", "strokeWidth": 1.6},
 "encoding": {"x": {"field": "lo", "type": "quantitative"}, "y": {"field": "qcd", "type": "quantitative"}}},
{"data": {"name": "right"}, "mark": {"type": "rule", "color": "#000", "strokeWidth": 1.6},
 "encoding": {"x": {"field": "lo", "type": "quantitative"}, "x2": {"field": "hi"}, "y": {"field": "mc", "type": "quantitative"}}},
{"data": {"name": "stack"}, "mark": {"type": "rule", "color": "#000", "strokeWidth": 1.6},
 "encoding": {"x": {"field": "lo", "type": "quantitative"}, "x2": {"field": "hi"}, "y": {"field": "ewk", "type": "quantitative"}}},
{"data": {"name": "stack"}, "mark": {"type": "rule", "color": "#000", "strokeWidth": 1.6},
 "encoding": {"x": {"field": "lo", "type": "quantitative"}, "x2": {"field": "hi"}, "y": {"field": "tt", "type": "quantitative"}}},
{"data": {"name": "stack"}, "mark": {"type": "rule", "color": "#000", "strokeWidth": 1.6},
 "encoding": {"x": {"field": "lo", "type": "quantitative"}, "x2": {"field": "hi"}, "y": {"field": "qcd", "type": "quantitative"}}},
{"data": {"name": "right"}, "mark": {"type": "rect", "fillOpacity": 0.8},
 "encoding": {"x": {"field": "lo", "type": "quantitative"}, "x2": {"field": "hi"}, "y": {"field": "bhi", "type": "quantitative"}, "y2": {"field": "blo"}, "fill": {"datum": "Bkg. uncertainty", "type": "nominal"}}},
{"data": {"name": "obs"}, "mark": {"type": "errorbar", "color": "#000", "thickness": 2, "clip": true},
 "encoding": {"x": {"field": "pt", "type": "quantitative"}, "y": {"field": "n", "type": "quantitative", "title": "Events / 10.0 GeV"}, "yError": {"field": "err"}}},
{"data": {"name": "obs"}, "mark": {"type": "point", "filled": true, "size": 85, "opacity": 1, "clip": true},
 "encoding": {"x": {"field": "pt", "type": "quantitative"}, "y": {"field": "n", "type": "quantitative"},
  "color": {"datum": "Observed", "type": "nominal", "scale": {"domain": ["Observed"], "range": ["#000000"]},
            "legend": {"orient": "none", "legendX": 260.5, "legendY": 21.5, "title": null, "padding": 0,
                       "symbolType": "M-2,0H2M0,-0.5V0.5M0.4,0A0.4,0.4,0,1,1,-0.4,0A0.4,0.4,0,1,1,0.4,0Z", "symbolSize": 625,
                       "symbolFillColor": "#000", "symbolStrokeColor": "#000", "symbolStrokeWidth": 2, "labelFontSize": 26, "labelOffset": 14.5,
                       "encode": {"symbols": {"update": {"stroke": {"value": "#000"}, "strokeWidth": {"value": 2}, "fill": {"value": "#000"}, "opacity": {"value": 1}}}}}}}},
{"data": {"values": [{}]}, "mark": {"type": "text", "text": "Work in progress", "fontSize": 24, "align": "left", "baseline": "middle"},
 "encoding": {"x": {"datum": 40.7, "type": "quantitative"}, "y": {"datum": 27000000, "type": "quantitative"}}},
{"data": {"values": [{}]}, "mark": {"type": "text", "text": "Z", "fontSize": 27, "fontWeight": "bold", "align": "left", "baseline": "middle", "dy": -21},
 "encoding": {"x": {"datum": 0, "type": "quantitative"}, "y": {"datum": 190000000, "type": "quantitative"}}},
{"data": {"values": [{}]}, "mark": {"type": "text", "text": "→μμ", "font": "DejaVu Sans", "fontSize": 27, "align": "left", "baseline": "middle", "dy": -21},
 "encoding": {"x": {"datum": 22, "type": "quantitative"}, "y": {"datum": 190000000, "type": "quantitative"}}},
{"data": {"values": [{}]}, "mark": {"type": "text", "text": "12.9 fb⁻¹ at 13 TeV", "fontSize": 21, "align": "right", "baseline": "middle", "dy": -18},
 "encoding": {"x": {"datum": 600, "type": "quantitative"}, "y": {"datum": 190000000, "type": "quantitative"}}}
]
},
{
"width": 516, "height": 107,
"resolve": {"axis": {"x": "independent"}},
"layer": [
{"data": {"name": "stack"}, "mark": {"type": "rect", "color": "#c0c0c0", "stroke": "#c0c0c0", "strokeWidth": 1},
 "encoding": {
  "x": {"field": "lo", "type": "quantitative", "scale": {"domain": [0, 600], "nice": false, "zero": false},
        "axis": {"orient": "bottom", "title": "Z pt  (GeV)", "titleAnchor": "end", "titleAlign": "right", "titleFontSize": 20, "titlePadding": 6,
                 "labelOverlap": false, "values": [0,100,200,300,400,500,600],
                 "tickSize": -12, "labelPadding": 14}},
  "x2": {"field": "hi"},
  "y": {"field": "uhi", "type": "quantitative", "scale": {"domain": [0.65, 1.35], "nice": false, "zero": false},
        "axis": {"title": "Obs/Exp", "titleX": -70, "titleY": 53.5, "titleAngle": -90, "titleAlign": "center", "titleBaseline": "middle", "titleFontSize": 23,
                 "labelOverlap": false,
                 "values": [0.8, 1, 1.2],
                 "labelExpr": "datum.value == 1 ? '1' : format(datum.value, '.1f')",
                 "tickSize": -10, "labelPadding": 15,
                 "grid": true, "gridColor": "#000", "gridDash": [2, 3], "gridWidth": 1}},
  "y2": {"field": "ulo"}
 }},
{"data": {"name": "right"}, "mark": {"type": "errorbar", "color": "#000", "thickness": 2, "clip": true},
 "encoding": {"x": {"field": "pt", "type": "quantitative",
                    "axis": {"orient": "bottom", "title": null, "labels": false, "tickSize": -6,
                             "values": [20,40,60,80,120,140,160,180,220,240,260,280,320,340,360,380,420,440,460,480,520,540,560,580]}},
              "y": {"field": "r", "type": "quantitative", "title": "Obs/Exp"}, "yError": {"field": "rerr"}}},
{"data": {"name": "right"}, "mark": {"type": "point", "filled": true, "color": "#000", "size": 85, "opacity": 1, "clip": true},
 "encoding": {"x": {"field": "pt", "type": "quantitative", "axis": null}, "y": {"field": "r", "type": "quantitative"}}}
]
}
]
}
]
}
